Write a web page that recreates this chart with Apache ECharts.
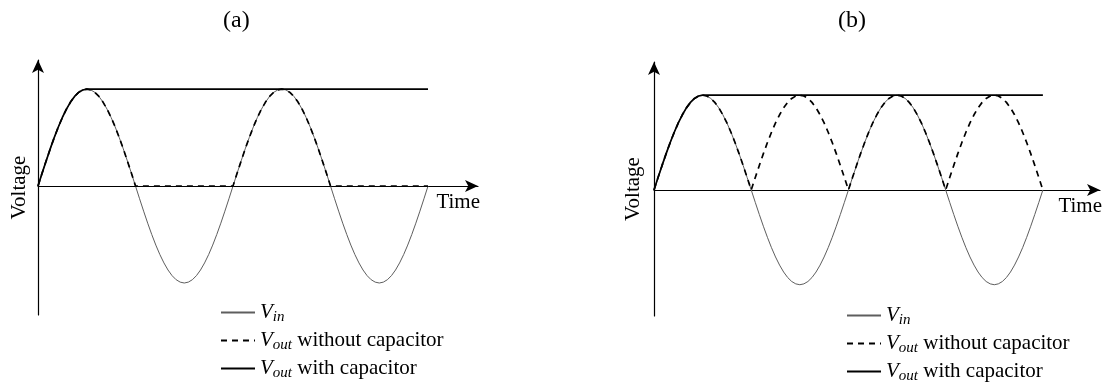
<!DOCTYPE html>
<html>
<head>
<meta charset="utf-8">
<script src="https://cdn.jsdelivr.net/npm/echarts@6/dist/echarts.min.js"></script>
<style>
html,body{margin:0;padding:0;background:#fff;}
#chart{width:1111px;height:385px;}
</style>
</head>
<body>
<div id="chart"></div>
<script>
// Time steps (1 step = 1/24 of a half period)
const time = [0,1,2,3,4,5,6,7,8,9,10,11,12,13,14,15,16,17,18,19,20,21,22,23,
  24,25,26,27,28,29,30,31,32,33,34,35,36,37,38,39,40,41,42,43,44,45,46,47,
  48,49,50,51,52,53,54,55,56,57,58,59,60,61,62,63,64,65,66,67,68,69,70,71,
  72,73,74,75,76,77,78,79,80,81,82,83,84,85,86,87,88,89,90,91,92,93,94,95,
  96];

// Input voltage (normalised to the peak)
const vin = [
  0,0.131,0.259,0.383,0.5,0.609,0.707,0.793,0.866,0.924,0.966,0.991,1,0.991,0.966,0.924,0.866,0.793,0.707,0.609,0.5,0.383,0.259,0.131,
  0,-0.131,-0.259,-0.383,-0.5,-0.609,-0.707,-0.793,-0.866,-0.924,-0.966,-0.991,-1,-0.991,-0.966,-0.924,-0.866,-0.793,-0.707,-0.609,-0.5,-0.383,-0.259,-0.131,
  0,0.131,0.259,0.383,0.5,0.609,0.707,0.793,0.866,0.924,0.966,0.991,1,0.991,0.966,0.924,0.866,0.793,0.707,0.609,0.5,0.383,0.259,0.131,
  0,-0.131,-0.259,-0.383,-0.5,-0.609,-0.707,-0.793,-0.866,-0.924,-0.966,-0.991,-1,-0.991,-0.966,-0.924,-0.866,-0.793,-0.707,-0.609,-0.5,-0.383,-0.259,-0.131,
  0];

// (a) half-wave output without capacitor
const voutHalf = [
  0,0.131,0.259,0.383,0.5,0.609,0.707,0.793,0.866,0.924,0.966,0.991,1,0.991,0.966,0.924,0.866,0.793,0.707,0.609,0.5,0.383,0.259,0.131,
  0,0,0,0,0,0,0,0,0,0,0,0,0,0,0,0,0,0,0,0,0,0,0,0,
  0,0.131,0.259,0.383,0.5,0.609,0.707,0.793,0.866,0.924,0.966,0.991,1,0.991,0.966,0.924,0.866,0.793,0.707,0.609,0.5,0.383,0.259,0.131,
  0,0,0,0,0,0,0,0,0,0,0,0,0,0,0,0,0,0,0,0,0,0,0,0,
  0];

// (b) full-wave output without capacitor
const voutFull = [
  0,0.131,0.259,0.383,0.5,0.609,0.707,0.793,0.866,0.924,0.966,0.991,1,0.991,0.966,0.924,0.866,0.793,0.707,0.609,0.5,0.383,0.259,0.131,
  0,0.131,0.259,0.383,0.5,0.609,0.707,0.793,0.866,0.924,0.966,0.991,1,0.991,0.966,0.924,0.866,0.793,0.707,0.609,0.5,0.383,0.259,0.131,
  0,0.131,0.259,0.383,0.5,0.609,0.707,0.793,0.866,0.924,0.966,0.991,1,0.991,0.966,0.924,0.866,0.793,0.707,0.609,0.5,0.383,0.259,0.131,
  0,0.131,0.259,0.383,0.5,0.609,0.707,0.793,0.866,0.924,0.966,0.991,1,0.991,0.966,0.924,0.866,0.793,0.707,0.609,0.5,0.383,0.259,0.131,
  0];

// Output with capacitor (both panels)
const voutCap = [
  0,0.131,0.259,0.383,0.5,0.609,0.707,0.793,0.866,0.924,0.966,0.991,1,1,1,1,1,1,1,1,1,1,1,1,
  1,1,1,1,1,1,1,1,1,1,1,1,1,1,1,1,1,1,1,1,1,1,1,1,
  1,1,1,1,1,1,1,1,1,1,1,1,1,1,1,1,1,1,1,1,1,1,1,1,
  1,1,1,1,1,1,1,1,1,1,1,1,1,1,1,1,1,1,1,1,1,1,1,1,
  1];

const panelTitles = ['(a)', '(b)'];
const seriesNames = ['Vin', 'Vout without capacitor', 'Vout with capacitor'];
const legendLabels = {
  'Vin': '{v|V}{s|in}',
  'Vout without capacitor': '{v|V}{s|out}{t| without capacitor}',
  'Vout with capacitor': '{v|V}{s|out}{t| with capacitor}'
};

const FONT = 'Liberation Serif';
const pair = arr => time.map((t, i) => [t, arr[i]]);

const chart = echarts.init(document.getElementById('chart'), null, {renderer: 'canvas'});

function xAxisCfg(idx, max) {
  return {
    type: 'value', gridIndex: idx, min: 0, max: max,
    name: 'Time', nameLocation: 'end', nameGap: 2,
    nameTextStyle: {fontFamily: FONT, fontSize: 21, color: '#000', align: 'right', verticalAlign: 'top', padding: [6, 0, 0, 0]},
    axisLine: {onZero: true, symbol: ['none', 'arrow'], symbolSize: [9, 13], lineStyle: {color: '#000', width: 1.2}},
    axisTick: {show: false}, axisLabel: {show: false}, splitLine: {show: false}
  };
}
function yAxisCfg(idx, min, max, gap) {
  return {
    type: 'value', gridIndex: idx, min: min, max: max,
    name: 'Voltage', nameLocation: 'middle', nameGap: gap, nameRotate: 90,
    nameTextStyle: {fontFamily: FONT, fontSize: 21, color: '#000'},
    axisLine: {onZero: false, symbol: ['none', 'arrow'], symbolSize: [9, 13], lineStyle: {color: '#000', width: 1.2}},
    axisTick: {show: false}, axisLabel: {show: false}, splitLine: {show: false}
  };
}
function seriesFor(idx, dashedData) {
  return [
    {name: seriesNames[0], type: 'line', xAxisIndex: idx, yAxisIndex: idx, data: pair(vin),
      symbol: 'none', itemStyle: {color: '#5e5e5e'}, lineStyle: {color: '#5e5e5e', width: 1}, z: 2, silent: true},
    {name: seriesNames[1], type: 'line', xAxisIndex: idx, yAxisIndex: idx, data: pair(dashedData),
      symbol: 'none', itemStyle: {color: '#000'}, lineStyle: {color: '#000', width: 1.7, type: [6, 5]}, z: 3, silent: true},
    {name: seriesNames[2], type: 'line', xAxisIndex: idx, yAxisIndex: idx, data: pair(voutCap),
      symbol: 'none', itemStyle: {color: '#000'}, lineStyle: {color: '#000', width: 1.7}, z: 4, silent: true}
  ];
}
const rich = {
  v: {fontFamily: FONT, fontStyle: 'italic', fontSize: 21, color: '#000'},
  s: {fontFamily: FONT, fontStyle: 'italic', fontSize: 15, color: '#000', padding: [10, 0, 0, 0]},
  t: {fontFamily: FONT, fontSize: 21, color: '#000'}
};
function legendCfg(left, top) {
  return {
    orient: 'vertical', left: left, top: top, itemWidth: 34, itemHeight: 14, itemGap: 5,
    padding: 0, selectedMode: false, data: seriesNames,
    itemStyle: {color: '#000', opacity: 0, borderWidth: 0},
    formatter: name => legendLabels[name],
    textStyle: {fontFamily: FONT, fontSize: 21, color: '#000', rich: rich}
  };
}

chart.setOption({
  animation: false,
  backgroundColor: '#fff',
  title: [
    {text: panelTitles[0], left: 223, top: 9, padding: 0, textStyle: {fontFamily: FONT, fontSize: 24, fontWeight: 'normal', color: '#000'}},
    {text: panelTitles[1], left: 838, top: 9, padding: 0, textStyle: {fontFamily: FONT, fontSize: 24, fontWeight: 'normal', color: '#000'}}
  ],
  grid: [
    {left: 38, top: 60, width: 440, height: 255},
    {left: 654, top: 62, width: 446, height: 254}
  ],
  xAxis: [xAxisCfg(0, 108.3), xAxisCfg(1, 110.1)],
  yAxis: [yAxisCfg(0, -1.33, 1.3, 8), yAxisCfg(1, -1.33, 1.35, 10)],
  legend: [legendCfg(220, 302), legendCfg(846, 305)],
  series: [].concat(seriesFor(0, voutHalf), seriesFor(1, voutFull))
});
</script>
</body>
</html>
